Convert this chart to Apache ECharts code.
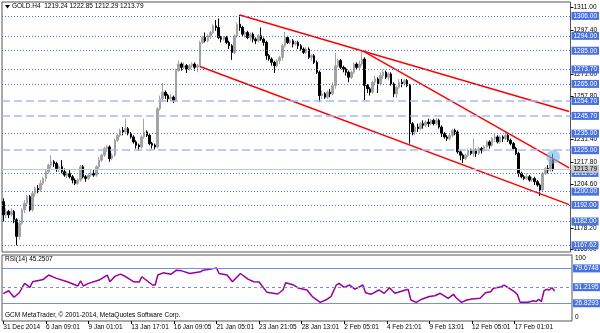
<!DOCTYPE html>
<html>
<head>
<meta charset="utf-8">
<script src="https://cdn.jsdelivr.net/npm/echarts@6/dist/echarts.min.js"></script>
<style>
html, body { margin: 0; padding: 0; background: #fff; }
#main { width: 600px; height: 333px; }
</style>
</head>
<body>
<div id="main"></div>
<script>
// GOLD H4 candles (one value per bar)
var symbolName = 'GOLD.H4';
var opens = [
	1194,1186,1188,1186,1188,1183,1173,1181,1189,1193,
	1197,1189,1199,1202,1201,1205,1208,1212,1216,1218,
	1217,1214,1215,1212,1210,1211,1209,1207,1205,1207,
	1215,1209,1208,1210,1211,1210,1215,1219,1222,1226,
	1227,1220,1222,1231,1234,1237,1236,1238,1235,1233,
	1230,1228,1227,1233,1236,1234,1229,1228,1227,1250,
	1256,1260,1258,1256,1257,1255,1273,1277,1275,1276,
	1274,1276,1277,1275,1276,1290,1293,1291,1294,1296,
	1300,1299,1293,1292,1293,1290,1288,1284,1294,1301,
	1299,1295,1296,1293,1295,1292,1291,1294,1292,1290,
	1282,1280,1278,1276,1279,1281,1288,1293,1290,1291,
	1289,1290,1288,1286,1284,1286,1281,1282,1278,1272,
	1258,1259,1257,1260,1259,1264,1276,1279,1275,1274,
	1272,1269,1272,1277,1275,1277,1280,1264,1262,1260,
	1266,1268,1265,1270,1272,1269,1271,1265,1259,1263,
	1266,1265,1267,1264,1241,1236,1239,1238,1241,1240,
	1242,1241,1243,1241,1243,1239,1235,1233,1232,1234,
	1237,1236,1224,1222,1220,1222,1225,1223,1225,1223,
	1226,1225,1227,1230,1228,1232,1233,1230,1233,1232,
	1234,1231,1229,1226,1223,1211,1209,1208,1209,1207,
	1208,1206,1204,1201,1211,1214,1213,1219.24
];
var closes = [
	1186,1188,1186,1188,1183,1173,1181,1189,1193,1197,
	1189,1199,1202,1201,1205,1208,1212,1216,1218,1217,
	1214,1215,1212,1210,1211,1209,1207,1205,1207,1215,
	1209,1208,1210,1211,1210,1215,1219,1222,1226,1227,
	1220,1222,1231,1234,1237,1236,1238,1235,1233,1230,
	1228,1227,1233,1236,1234,1229,1228,1227,1250,1256,
	1260,1258,1256,1257,1255,1273,1277,1275,1276,1274,
	1276,1277,1275,1276,1290,1293,1291,1294,1296,1300,
	1299,1293,1292,1293,1290,1288,1284,1294,1301,1299,
	1295,1296,1293,1295,1292,1291,1294,1292,1290,1282,
	1280,1278,1276,1279,1281,1288,1293,1290,1291,1289,
	1290,1288,1286,1284,1286,1281,1282,1278,1272,1258,
	1259,1257,1260,1259,1264,1276,1279,1275,1274,1272,
	1269,1272,1277,1275,1277,1280,1264,1262,1260,1266,
	1268,1265,1270,1272,1269,1271,1265,1259,1263,1266,
	1265,1267,1264,1241,1236,1239,1238,1241,1240,1242,
	1241,1243,1241,1243,1239,1235,1233,1232,1234,1237,
	1236,1224,1222,1220,1222,1225,1223,1225,1223,1226,
	1225,1227,1230,1228,1232,1233,1230,1233,1232,1234,
	1231,1229,1226,1223,1211,1209,1208,1209,1207,1208,
	1206,1204,1201,1211,1214,1213,1219.24,1213.79
];
var lows = [
	1182,1184,1184,1185,1181,1167.6,1171,1180,1187,1191,
	1188,1188,1197,1199,1200,1204,1206,1211,1214,1215,
	1212,1212,1211,1209,1208,1208,1205,1204,1204,1206,
	1208,1206,1207,1209,1209,1209,1213,1218,1221,1224,
	1218,1219,1221,1230,1233,1234,1235,1234,1232,1229,
	1226,1224.6,1226,1232,1233,1228,1226,1225.5,1226,1249,
	1254,1256,1254,1255,1253.5,1254,1272,1273,1274,1271.6,
	1273,1275,1273,1272,1275.5,1289,1290,1290,1292,1295,
	1297,1292,1290,1291,1289,1286,1279.5,1283,1293,1297,
	1294,1293,1292,1291,1290,1289,1290,1291,1288,1279.6,
	1279,1276,1271.6,1275,1277,1279,1287,1289,1289,1287,
	1288,1286,1285,1283,1283,1280,1279,1277,1271,1254,
	1256,1256,1256,1257,1258,1262,1275,1274,1272,1270,
	1266,1268,1271,1274,1273,1276,1255.3,1259.5,1258,1259,
	1264,1259.5,1264,1268,1268,1267,1264,1257,1256.5,1262,
	1263,1264,1263,1229,1234,1234,1236,1237,1238,1239,
	1239,1240,1240,1240,1238,1233,1232,1230.5,1231,1233,
	1234,1223,1219,1217.3,1219,1221,1222,1221,1221,1222,
	1223,1224,1226,1226,1227,1230,1229,1229,1230,1231,
	1230,1228,1225,1222,1209,1208,1207,1207,1206,1206,
	1204,1203,1197.4,1200,1210,1211,1212,1212.29
];
var highs = [
	1196,1190,1189,1190,1189,1184,1183,1190,1195,1198,
	1198,1200,1203,1204,1207,1209,1213,1217,1222,1219,
	1218,1216,1219,1214,1212,1213,1210,1208,1208,1216,
	1216,1210,1211,1213,1213,1216,1221,1223,1227,1228,
	1228,1223,1232,1235,1238,1239,1244,1239,1236,1234,
	1231,1229,1234,1244,1237,1235,1230,1229,1251,1258,
	1265.5,1261,1259,1259,1258,1274,1279,1278,1278,1277,
	1277,1278,1278,1277,1291,1294,1296,1295,1297,1301,
	1303.6,1304.5,1294,1294,1294,1291,1289,1295,1302,1306.6,
	1300,1297,1297,1296,1296,1293,1295,1299,1293,1291,
	1283,1281,1279,1280,1282,1289,1296.3,1294,1292,1292,
	1291,1291,1289,1287,1287,1287,1283,1283,1279,1273,
	1261,1260,1261,1262,1266,1283.7,1280,1280,1276,1275,
	1273,1273,1278,1278,1279,1285.2,1281,1265,1263,1267,
	1270,1269,1272,1273.5,1273,1272,1272,1266,1264,1268,
	1268,1268,1268,1265,1242,1240,1241,1242,1243,1243,
	1244,1244,1244,1244.4,1244,1240,1236,1234,1235,1238,
	1238,1237,1225,1223,1223,1226,1226,1232,1226,1227,
	1227,1228,1231,1231,1233,1235.4,1234,1234,1234,1236,
	1235,1232,1230,1227,1224,1212,1210,1211,1210,1209,
	1209,1207,1205,1212,1215,1216,1220,1222.85
];

// time axis labels, one every 16 bars
var tickLabels = ['31 Dec 2014', '6 Jan 09:01', '9 Jan 01:01', '13 Jan 17:01', '16 Jan 09:05',
	'21 Jan 05:01', '23 Jan 21:05', '28 Jan 13:01', '2 Feb 05:01', '4 Feb 21:01',
	'9 Feb 13:01', '12 Feb 05:01', '17 Feb 01:01'];
var priceTicks = [1311.00, 1297.40, 1271.00, 1257.80, 1231.40, 1217.80, 1204.60, 1178.20, 1165.00];

// horizontal levels drawn on the chart
var dottedLevels = [1306.00, 1294.00, 1285.00, 1273.70, 1265.00, 1235.00, 1211.30, 1200.00, 1192.00, 1182.00, 1167.62];
var dashedLevels = [1254.70, 1245.70, 1225.00];
var bidPrice = 1213.79;

// trend lines: [barIndex, price] -> [barIndex, price]
var trendLines = [
	[[89, 1306.6], [213, 1248.4]],
	[[135, 1285.2], [213, 1214.3]],
	[[74, 1275.5], [213, 1192.2]]
];
var highlightPoint = [207, 1221];

// RSI(14), read at bar indexes
var rsiPoints = [
	[0,41.5],[2,45.8],[4,36],[6,42.8],[8,57],[10,51],[11,59.5],[15,63],[17,69.6],[20,64.6],
	[24,59.4],[28,53],[29,61],[30,53],[32,57],[36,62],[39,69.6],[40,59.4],[42,68],[44,71],
	[46,67],[49,59.4],[51,59],[52,67],[56,54.5],[57,54.5],[58,69.6],[60,73],[63,71],[65,77],
	[67,76],[70,72],[74,74.5],[75,77],[78,78.6],[80,80.5],[81,72],[84,69.6],[86,59.4],[89,72],
	[92,63],[94,59.4],[96,59],[99,43.4],[103,40.9],[105,47],[106,58],[109,54.5],[111,49.5],[114,47],
	[116,37],[119,28.3],[121,31.8],[123,37],[125,54.5],[126,57],[128,51],[130,54.5],[132,48.4],[135,54.5],
	[136,42.8],[138,40.4],[141,47],[143,42],[145,50.4],[147,42],[151,47],[152,48],[153,31.8],[155,28.3],
	[157,32.9],[160,37],[162,38.3],[164,42],[166,37],[167,34.4],[169,40.4],[170,35.3],[172,28.3],[174,31.8],
	[176,33.3],[179,34.4],[181,42.8],[183,44.3],[184,49.5],[187,52],[188,54.5],[190,49.5],[192,44],[193,40],
	[194,28.5],[197,28.3],[199,30.8],[200,29.3],[201,33],[202,29.3],[203,45.8],[204,48],[205,47],[206,50.4],
	[207,45.2507]
];
var rsiLevels = [79.6748, 51.2195, 26.8293];

var FONT = 'Liberation Sans';
var FS = 6.5;

var categories = [];
var candleData = [];
for (var i = 0; i < opens.length; i++) {
	categories.push(String(i));
	candleData.push([opens[i], closes[i], lows[i], highs[i]]);
}
var lastBar = opens.length - 1;
var headerText = symbolName + '  ' + [opens[lastBar], highs[lastBar], lows[lastBar], closes[lastBar]].map(function(v) {
	return v.toFixed(2);
}).join(' ');
var rsiText = 'RSI(14) ' + rsiPoints[rsiPoints.length - 1][1].toFixed(4);

//右侧的价位标签
function levelLabel(value, bg, fg, digits) {
	return {
		show: true,
		position: 'end',
		distance: 1,
		formatter: function() { return value.toFixed(digits); },
		backgroundColor: bg,
		color: fg,
		padding: [1, 2, 0, 2],
		fontFamily: FONT,
		fontSize: FS
	};
}

var priceLines = [];
dottedLevels.forEach(function(v) {
	priceLines.push({
		yAxis: v,
		lineStyle: { color: '#4f73e3', width: 1, type: [1, 2] },
		label: levelLabel(v, '#4a72e0', '#fff', 2)
	});
});
dashedLevels.forEach(function(v) {
	priceLines.push({
		yAxis: v,
		lineStyle: { color: '#a3bbf4', width: 1.7, type: [8, 4] },
		label: levelLabel(v, '#4a72e0', '#fff', 2)
	});
});
priceLines.push({
	yAxis: bidPrice,
	lineStyle: { color: '#c8c8c8', width: 1, type: 'solid' },
	label: levelLabel(bidPrice, '#c8c8c8', '#000', 2)
});

var rsiLines = rsiLevels.map(function(v, k) {
	return {
		yAxis: v,
		lineStyle: { color: '#6f90ee', width: 1, type: k === 1 ? [3, 3] : 'solid' },
		label: levelLabel(v, '#4a72e0', '#fff', 4)
	};
});

var series = [{
	name: symbolName,
	type: 'candlestick',
	xAxisIndex: 0,
	yAxisIndex: 0,
	barWidth: 2,
	data: candleData,
	z: 3,
	itemStyle: {
		color: '#a3a3a3',
		color0: '#000',
		borderColor: '#a3a3a3',
		borderColor0: '#000',
		borderWidth: 1
	},
	markLine: {
		silent: true,
		symbol: 'none',
		animation: false,
		data: priceLines
	},
	markPoint: {
		silent: true,
		data: [{
			coord: highlightPoint,
			symbol: 'circle',
			symbolSize: 14,
			itemStyle: { color: 'rgba(110,185,240,0.6)' },
			label: { show: false }
		}]
	}
}, {
	name: 'RSI',
	type: 'line',
	xAxisIndex: 1,
	yAxisIndex: 1,
	data: rsiPoints,
	showSymbol: false,
	lineStyle: { color: '#990099', width: 1.5 },
	markLine: {
		silent: true,
		symbol: 'none',
		animation: false,
		data: rsiLines
	}
}];

// 趋势线
trendLines.forEach(function(t, k) {
	series.push({
		name: 'trend' + k,
		type: 'line',
		xAxisIndex: 0,
		yAxisIndex: 0,
		data: t,
		z: 4,
		showSymbol: false,
		silent: true,
		lineStyle: { color: '#ff0000', width: 1.5 }
	});
});

var myChart = echarts.init(document.getElementById('main'));
var option = {
	animation: false,
	backgroundColor: '#fff',
	grid: [
		{ left: 2, top: 2, width: 570, height: 250, show: true, borderColor: '#555', borderWidth: 1, backgroundColor: 'transparent' },
		{ left: 2, top: 255, width: 570, height: 66, show: true, borderColor: '#555', borderWidth: 1, backgroundColor: 'transparent' }
	],
	xAxis: [{
		type: 'category',
		gridIndex: 0,
		data: categories,
		max: 213,
		boundaryGap: true,
		show: false
	}, {
		type: 'category',
		gridIndex: 1,
		data: categories,
		max: 213,
		boundaryGap: true,
		axisLine: { show: false },
		axisTick: {
			show: true,
			alignWithLabel: true,
			length: 3,
			interval: function(idx) { return idx % 16 === 0 && idx < opens.length; },
			lineStyle: { color: '#000', width: 1 }
		},
		axisLabel: {
			interval: function(idx) { return idx % 16 === 0 && idx < opens.length; },
			formatter: function(v) {
				var n = +v;
				return (n % 16 === 0 && tickLabels[n / 16]) ? tickLabels[n / 16] : '';
			},
			align: 'left',
			margin: 3,
			color: '#000',
			fontFamily: FONT,
			fontSize: FS
		},
		splitLine: { show: false }
	}],
	yAxis: [{
		type: 'value',
		gridIndex: 0,
		position: 'right',
		min: 1163.6,
		max: 1314.4,
		axisLine: { show: false },
		splitLine: { show: false },
		axisTick: { show: true, length: 3, customValues: priceTicks, lineStyle: { color: '#000' } },
		axisLabel: {
			customValues: priceTicks,
			formatter: function(v) { return v.toFixed(2); },
			margin: 3,
			color: '#000',
			fontFamily: FONT,
			fontSize: FS
		}
	}, {
		type: 'value',
		gridIndex: 1,
		position: 'right',
		min: 0,
		max: 100,
		axisLine: { show: false },
		splitLine: { show: false },
		axisTick: { show: false },
		axisLabel: {
			customValues: [0, 100],
			verticalAlignMinLabel: 'bottom',
			verticalAlignMaxLabel: 'top',
			margin: 3,
			color: '#000',
			fontFamily: FONT,
			fontSize: FS
		}
	}],
	series: series,
	graphic: [
		{ type: 'polygon', shape: { points: [[5, 5], [10, 5], [7.5, 8.5]] }, style: { fill: '#000' } },
		{ type: 'text', left: 12, top: 3, style: { text: headerText, fill: '#000', font: FS + 'px "' + FONT + '"' } },
		{ type: 'text', left: 5, top: 256, style: { text: rsiText, fill: '#000', font: FS + 'px "' + FONT + '"' } },
		{ type: 'text', left: 5, top: 312, style: { text: 'GCM MetaTrader, \u00a9 2001-2014, MetaQuotes Software Corp.', fill: '#000', font: FS + 'px "' + FONT + '"' } }
	]
};
myChart.setOption(option);
</script>
</body>
</html>
